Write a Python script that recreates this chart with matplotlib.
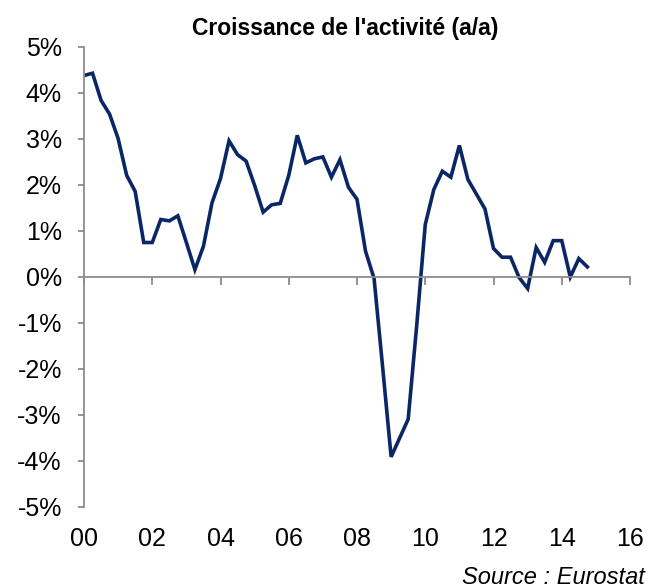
import matplotlib
matplotlib.use('Agg')
from matplotlib import pyplot as plt
import matplotlib.transforms as mtransforms

plt.rcParams['font.family'] = ['Liberation Sans', 'DejaVu Sans']

# croissance trimestrielle en glissement annuel, 2000T1 -> 2014T4
growth = [4.38, 4.43, 3.84, 3.54, 3.01, 2.21, 1.86, 0.75,
          0.75, 1.25, 1.22, 1.33, 0.75, 0.16, 0.67, 1.61,
          2.14, 2.96, 2.66, 2.52, 1.99, 1.41, 1.57, 1.60,
          2.21, 3.08, 2.48, 2.57, 2.61, 2.17, 2.55, 1.95,
          1.69, 0.56, -0.03, -1.95, -3.91, -3.50, -3.09, -1.05,
          1.14, 1.90, 2.30, 2.17, 2.86, 2.12, 1.80, 1.48,
          0.62, 0.43, 0.43, -0.01, -0.25, 0.64, 0.32, 0.79,
          0.79, 0.00, 0.40, 0.22]
quarters = [i / 4 for i in range(len(growth))]

year_ticks = [0, 2, 4, 6, 8, 10, 12, 14, 16]
year_labels = ['00', '02', '04', '06', '08', '10', '12', '14', '16']
pct_ticks = [5, 4, 3, 2, 1, 0, -1, -2, -3, -4, -5]
pct_labels = ['{0}%'.format(v) for v in pct_ticks]

fig = plt.figure(figsize=(6.49, 5.87), dpi=100)
ax = fig.add_axes([84 / 649, 1 - 507 / 587, 546 / 649, 460 / 587])

ax.plot(quarters, growth, color='#0a2665', lw=2.6, solid_joinstyle='miter')

ax.set_xlim(0, 16)
ax.set_ylim(-5, 5)

grey = '#8c8c8c'
for s in ['top', 'right']:
    ax.spines[s].set_visible(False)
ax.spines['bottom'].set_position(('data', 0))
ax.spines['bottom'].set_color(grey)
ax.spines['left'].set_color(grey)
ax.spines['bottom'].set_linewidth(1.3)
ax.spines['left'].set_linewidth(1.3)

ax.set_yticks(pct_ticks)
ax.set_yticklabels(pct_labels, fontsize=18)
ax.tick_params(axis='y', direction='out', length=4, width=1.3, color=grey, pad=12)

ax.set_xticks(year_ticks)
ax.set_xticklabels([])
ax.tick_params(axis='x', direction='out', length=5.5, width=1.3, color=grey)

trans = mtransforms.blended_transform_factory(ax.transData, fig.transFigure)
for x, lab in zip(year_ticks, year_labels):
    ax.text(x, 1 - 539 / 587, lab, transform=trans, ha='center', va='center', fontsize=18)

fig.text(345 / 649, 1 - 29 / 587, "Croissance de l'activité (a/a)", ha='center', va='center',
         fontsize=16.5, fontweight='bold')
fig.text(645 / 649, 1 - 577 / 587, 'Source : Eurostat', ha='right', va='center',
         fontsize=17, style='italic')

fig.savefig('out.png', dpi=100)
